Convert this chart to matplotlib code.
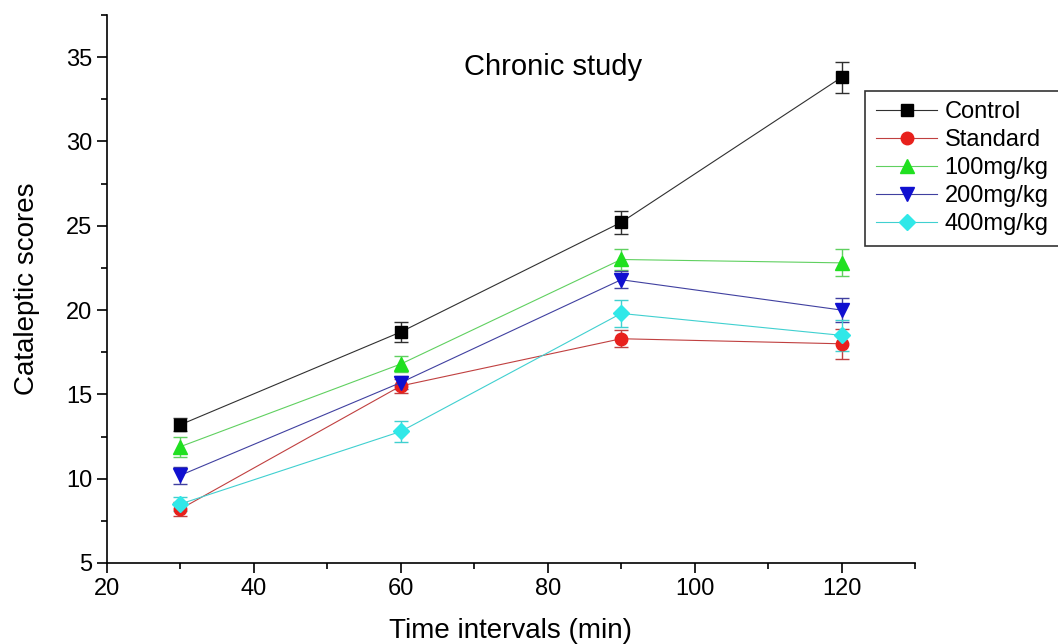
import matplotlib

matplotlib.use("Agg")
import matplotlib.pyplot as plt
from matplotlib.ticker import AutoMinorLocator

plt.rcParams["font.family"] = ["Liberation Sans", "DejaVu Sans"]

times = [30, 60, 90, 120]
groups = ["Control", "Standard", "100mg/kg", "200mg/kg", "400mg/kg"]
control = [13.2, 18.7, 25.2, 33.8]
standard = [8.2, 15.5, 18.3, 18.0]
dose100 = [11.9, 16.8, 23.0, 22.8]
dose200 = [10.2, 15.7, 21.8, 20.0]
dose400 = [8.5, 12.8, 19.8, 18.5]
control_err = [0.4, 0.6, 0.7, 0.9]
standard_err = [0.4, 0.4, 0.5, 0.9]
dose100_err = [0.6, 0.5, 0.6, 0.8]
dose200_err = [0.5, 0.4, 0.5, 0.7]
dose400_err = [0.4, 0.6, 0.8, 0.9]

series = [control, standard, dose100, dose200, dose400]
errors = [control_err, standard_err, dose100_err, dose200_err, dose400_err]
colors = ["#000000", "#e8201c", "#20e020", "#1010d0", "#30e8e8"]
line_colors = ["#303030", "#c04040", "#60d060", "#4040a0", "#40d0d0"]
markers = ["s", "o", "^", "v", "D"]
sizes = [8, 9, 10, 10, 8]

fig = plt.figure(figsize=(10.58, 6.44), dpi=100)
ax = fig.add_axes([0.1011, 0.1258, 0.7637, 0.8509])

handles = []
for name, vals, err, c, lc, m, s in zip(groups, series, errors, colors, line_colors, markers, sizes):
    cont = ax.errorbar(times, vals, yerr=err, color=lc, ecolor=lc, elinewidth=1.0,
                       capsize=5, capthick=1.0, linewidth=0.8, marker=m, markersize=s,
                       markerfacecolor=c, markeredgecolor=c, label=name)
    handles.append(cont[0])

ax.set_xlim(20, 130)
ax.set_ylim(5, 37.5)
ax.set_xticks([20, 40, 60, 80, 100, 120])
ax.set_yticks([5, 10, 15, 20, 25, 30, 35])
ax.xaxis.set_minor_locator(AutoMinorLocator(2))
ax.yaxis.set_minor_locator(AutoMinorLocator(2))
ax.tick_params(which="major", direction="out", length=7, width=1.2, labelsize=17)
ax.tick_params(which="minor", direction="out", length=4, width=1.2)
ax.spines["top"].set_visible(False)
ax.spines["right"].set_visible(False)
ax.spines["left"].set_linewidth(1.2)
ax.spines["bottom"].set_linewidth(1.2)

ax.set_xlabel("Time intervals (min)", fontsize=20, labelpad=13)
ax.set_ylabel("Cataleptic scores", fontsize=20, labelpad=19)
ax.text(0.552, 0.905, "Chronic study", transform=ax.transAxes, ha="center",
        va="center", fontsize=21)

leg = fig.legend(handles, groups, loc="upper left", bbox_to_anchor=(0.818, 0.859),
                 fontsize=17, handlelength=2.6, frameon=True, fancybox=False,
                 edgecolor="black", borderpad=0.45, labelspacing=0.25,
                 handletextpad=0.3, borderaxespad=0)
leg.get_frame().set_linewidth(1.2)

fig.savefig("out.png", dpi=100)
